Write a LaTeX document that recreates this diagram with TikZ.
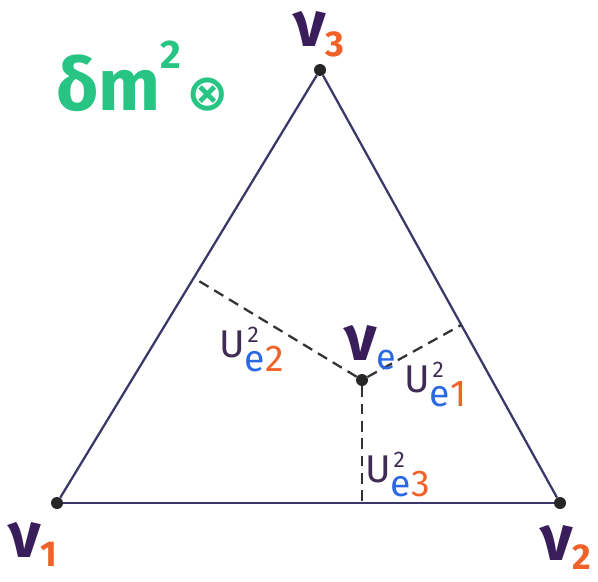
\documentclass[tikz,border=0pt]{standalone}
\usepackage{fontspec}
\setmainfont{Fira Sans}
\newfontfamily\signfont{DejaVu Sans}
\definecolor{nuviolet}{RGB}{58, 30, 92}
\definecolor{uviolet}{RGB}{62, 44, 84}
\definecolor{idxorange}{RGB}{240, 98, 42}
\definecolor{flavblue}{RGB}{42, 104, 228}
\definecolor{edgenavy}{RGB}{58, 56, 104}
\definecolor{massgreen}{RGB}{40, 196, 132}
\usetikzlibrary{calc}

% neutrino with coloured index, mixing element U^2_{e i}
\newcommand{\nusub}[2]{ν\raisebox{-7pt}{\fontsize{27}{27}\selectfont\textcolor{#1}{#2}}}
\newcommand{\umix}[1]{U\rlap{\kern2pt\raisebox{11pt}{\fontsize{17}{17}\selectfont 2}}\raisebox{-11pt}{\fontsize{28}{28}\selectfont\textcolor{flavblue}{e}\textcolor{idxorange}{#1}}}

\begin{document}
\begin{tikzpicture}[x=0.75pt, y=-0.75pt,
  vertex/.style={circle, fill=black!85, inner sep=0pt, minimum size=9pt},
  side/.style={draw=edgenavy, line width=1.7pt},
  proj/.style={draw=black!80, line width=1.7pt, dash pattern=on 8pt off 5pt},
  nulabel/.style={anchor=base west, inner sep=0pt, text=nuviolet, font=\bfseries\fontsize{48}{48}\selectfont},
  ulabel/.style={anchor=base west, inner sep=0pt, text=uviolet, font=\fontsize{29}{29}\selectfont}]
\useasboundingbox (0,0) rectangle (598,581);

% triangle of mass states
\node[vertex] (v1) at (57,503) {};
\node[vertex] (v2) at (560,503) {};
\node[vertex] (v3) at (320,70) {};
\node[vertex] (ve) at (362,380) {};
\draw[side] (v1) -- (v2);
\draw[side] (v2) -- (v3);
\draw[side] (v3) -- (v1);

% projections onto the sides
\coordinate (f1) at ($(v2)!(ve)!(v3)$);
\coordinate (f2) at ($(v1)!(ve)!(v3)$);
\coordinate (f3) at ($(v1)!(ve)!(v2)$);
\draw[proj] (ve) -- (f1);
\draw[proj] (ve) -- (f2);
\draw[proj] (ve) -- (f3);

% labels
\node[nulabel] (l1) at (8,557) {\nusub{idxorange}{1}};
\node[nulabel] (l2) at (540,560) {\nusub{idxorange}{2}};
\node[nulabel] (l3) at (293,47) {\nusub{idxorange}{3}};
\node[nulabel] (le) at (344,360) {\nusub{flavblue}{\mdseries e}};
\node[ulabel] (u1) at (404,392) {\umix{1}};
\node[ulabel] (u2) at (219,357) {\umix{2}};
\node[ulabel] (u3) at (365,482) {\umix{3}};
\node[anchor=base west, inner sep=0pt, text=massgreen, font=\bfseries\fontsize{55}{55}\selectfont] (dm) at (56,110)
  {δm\raisebox{31pt}{\fontsize{30}{30}\selectfont 2}\hspace{4pt}{\signfont\fontsize{38}{38}\selectfont ⊗}};
\end{tikzpicture}
\end{document}
